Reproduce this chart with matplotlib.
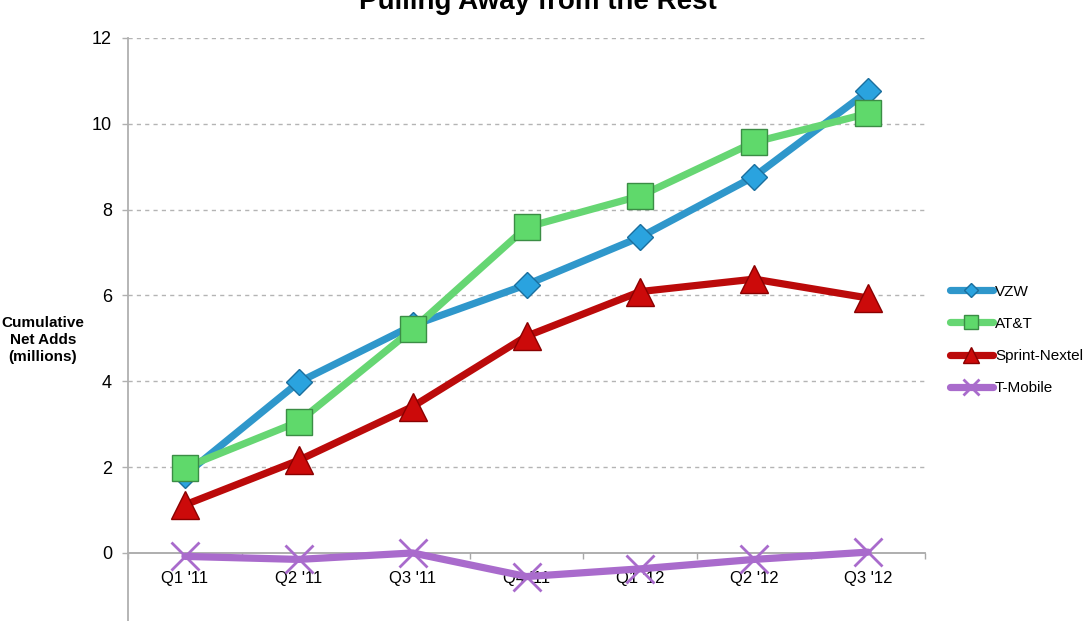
import matplotlib
matplotlib.use('Agg')
import matplotlib.pyplot as plt
import numpy as np

plt.rcParams['font.family'] = ['Liberation Sans', 'DejaVu Sans']

# quarters and cumulative net adds (millions)
quarters = ["Q1 '11", "Q2 '11", "Q3 '11", "Q4 '11", "Q1 '12", "Q2 '12", "Q3 '12"]
vzw = [1.82, 3.98, 5.3, 6.25, 7.36, 8.77, 10.76]
att = [1.99, 3.06, 5.21, 7.59, 8.32, 9.57, 10.24]
sprint = [1.12, 2.16, 3.41, 5.05, 6.09, 6.38, 5.94]
tmobile = [-0.08, -0.15, 0.0, -0.55, -0.37, -0.15, 0.02]

x = np.arange(len(quarters))

fig = plt.figure(figsize=(10.87, 6.21), dpi=100)
ax = fig.add_axes([128/1087, 0.0, 797/1087, 0.939])

# series: (values, label, line colour, marker, marker face, marker edge, size)
series = [
    (tmobile, 'T-Mobile', '#a96bcc', 'x', '#a96bcc', '#a96bcc', 20),
    (vzw, 'VZW', '#2f97cb', 'D', '#2aa3df', '#1b6f9e', 13.5),
    (att, 'AT&T', '#66d673', 's', '#5fd96b', '#3b8d45', 19),
    (sprint, 'Sprint-Nextel', '#bb0a0a', '^', '#cc0a0a', '#8a0000', 20),
]
handles = {}
for vals, label, lc, mk, mf, me, ms in series:
    mew = 2 if mk == 'x' else 1
    ln, = ax.plot(x, vals, color=lc, lw=5.2, marker=mk, markersize=ms,
                  markerfacecolor=mf, markeredgecolor=me, markeredgewidth=mew,
                  label=label, solid_capstyle='round', solid_joinstyle='round')
    handles[label] = ln

ax.set_xlim(-0.5, len(quarters) - 0.5)
ax.set_ylim(-1.585, 12)
ax.set_yticks(np.arange(0, 13, 2))
ax.set_xticks(x)
ax.set_xticklabels(quarters)
ax.set_xticks(np.arange(-0.5, len(quarters), 1), minor=True)

for yv in np.arange(2, 13, 2):
    ax.axhline(yv, color='#b4b4b4', lw=1.0, ls=(0, (3, 3)), zorder=0)

for s in ['top', 'right']:
    ax.spines[s].set_visible(False)
ax.spines['left'].set_color('#b0b0b0')
ax.spines['left'].set_linewidth(1.3)
ax.spines['bottom'].set_position(('data', 0))
ax.spines['bottom'].set_color('#a8a8a8')
ax.spines['bottom'].set_linewidth(1.3)
ax.spines['bottom'].set_zorder(0.5)

ax.tick_params(axis='y', direction='out', length=4.5, width=1, color='#b0b0b0',
               labelsize=13, pad=7)
ax.tick_params(axis='x', which='major', length=0, labelsize=12, pad=13)
ax.tick_params(axis='x', which='minor', direction='out', length=4, width=1,
               color='#a8a8a8')

fig.text(0.0396, 1 - 340/621, 'Cumulative\nNet Adds\n(millions)', ha='center',
         va='center', fontsize=11, fontweight='bold', linespacing=1.3)

fig.text(538/1087, 1 - 9/621, 'Pulling Away from the Rest', ha='center',
         va='baseline', fontsize=20, fontweight='bold')

order = ['VZW', 'AT&T', 'Sprint-Nextel', 'T-Mobile']
fig.legend([handles[k] for k in order], order, loc='center left',
           bbox_to_anchor=(950/1087, 1 - 340/621), frameon=False,
           fontsize=11, handlelength=2.8, handletextpad=0.15, markerscale=0.55,
           labelspacing=1.2, borderpad=0, borderaxespad=0)

fig.savefig('out.png', dpi=100)
